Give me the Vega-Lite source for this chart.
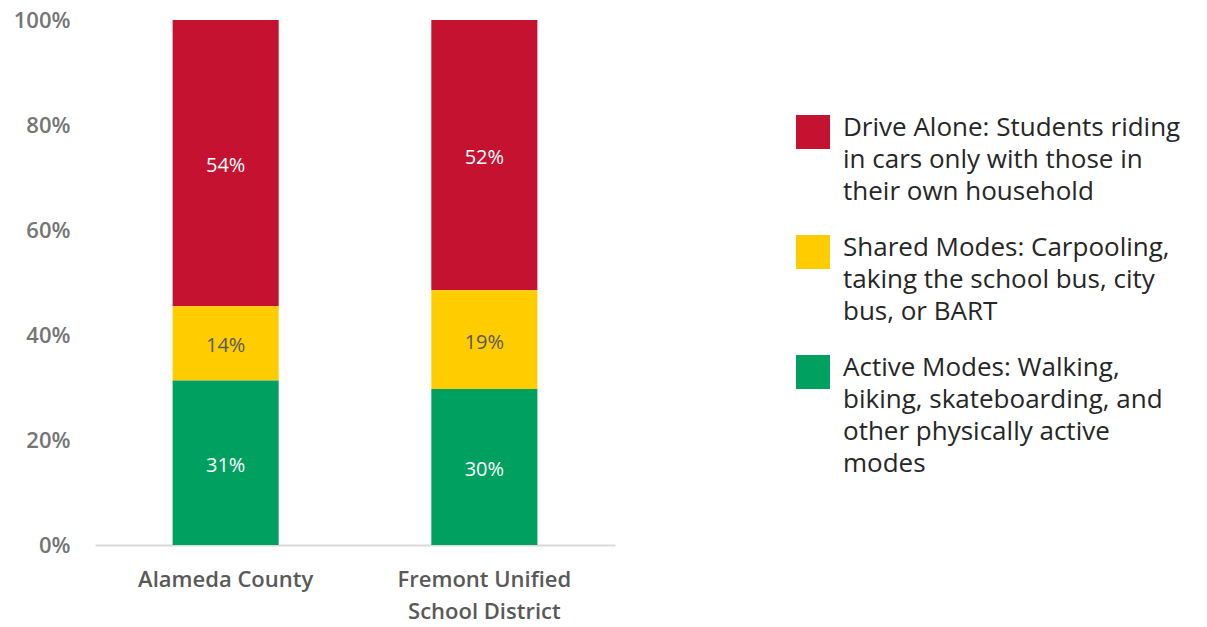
{
  "$schema": "https://vega.github.io/schema/vega-lite/v6.json",
  "autosize": {"type": "none"},
  "padding": {"left": 95, "top": 20, "right": 592, "bottom": 82},
  "width": 520,
  "height": 525,
  "background": "white",
  "config": {"view": {"stroke": null}},
  "data": {
    "values": [
      {"region": "Alameda County", "mode": "Drive Alone: Students riding in cars only with those in their own household", "value": 54},
      {"region": "Alameda County", "mode": "Shared Modes: Carpooling, taking the school bus, city bus, or BART", "value": 14},
      {"region": "Alameda County", "mode": "Active Modes: Walking, biking, skateboarding, and other physically active modes", "value": 31},
      {"region": "Fremont Unified School District", "mode": "Drive Alone: Students riding in cars only with those in their own household", "value": 52},
      {"region": "Fremont Unified School District", "mode": "Shared Modes: Carpooling, taking the school bus, city bus, or BART", "value": 19},
      {"region": "Fremont Unified School District", "mode": "Active Modes: Walking, biking, skateboarding, and other physically active modes", "value": 30}
    ]
  },
  "transform": [
    {"calculate": "indexof(['Active', 'Shared', 'Drive'], split(datum.mode, ' ')[0])", "as": "rank"},
    {"stack": "value", "groupby": ["region"], "sort": [{"field": "rank", "order": "ascending"}], "offset": "normalize", "as": ["y0", "y1"]},
    {"calculate": "(datum.y0 + datum.y1) / 2", "as": "ymid"},
    {"calculate": "datum.value + '%'", "as": "label"}
  ],
  "encoding": {
    "x": {
      "field": "region", "type": "nominal", "sort": null, "title": null,
      "scale": {"paddingInner": 0.59, "paddingOuter": 0.3},
      "axis": {
        "labelAngle": 0, "ticks": false, "domainColor": "#d9d9d9", "domainWidth": 2,
        "labelFont": "Open Sans", "labelFontSize": 22, "labelFontWeight": 600, "labelColor": "#595959",
        "labelPadding": 24, "labelLineHeight": 32,
        "labelExpr": "datum.label == 'Fremont Unified School District' ? ['Fremont Unified', 'School District'] : datum.label"
      }
    }
  },
  "layer": [
    {
      "mark": {"type": "bar"},
      "encoding": {
        "y": {
          "field": "y1", "type": "quantitative", "title": null,
          "scale": {"domain": [0, 1], "nice": false},
          "axis": {
            "values": [0, 0.2, 0.4, 0.6, 0.8, 1], "format": ".0%", "grid": false, "ticks": false, "domain": false,
            "labelFont": "Open Sans", "labelFontSize": 22, "labelFontWeight": 600, "labelColor": "#757575", "labelPadding": 25
          }
        },
        "y2": {"field": "y0"},
        "color": {
          "field": "mode", "type": "nominal", "title": null,
          "scale": {
            "domain": [
              "Drive Alone: Students riding in cars only with those in their own household",
              "Shared Modes: Carpooling, taking the school bus, city bus, or BART",
              "Active Modes: Walking, biking, skateboarding, and other physically active modes"
            ],
            "range": ["#C41230", "#FFCC00", "#00A160"]
          },
          "legend": {
            "orient": "none", "legendX": 701, "legendY": 95,
            "symbolType": "square", "symbolSize": 1156, "symbolStrokeWidth": 0, "symbolOpacity": 1,
            "labelFont": "Open Sans", "labelFontSize": 26, "labelColor": "#262626", "labelLimit": 500,
            "labelOffset": 13, "labelBaseline": "top", "rowPadding": 30,
            "labelExpr": "datum.label[0] == 'D' ? ['Drive Alone: Students riding', 'in cars only with those in', 'their own household'] : datum.label[0] == 'S' ? ['Shared Modes: Carpooling,', 'taking the school bus, city', 'bus, or BART'] : ['Active Modes: Walking,', 'biking, skateboarding, and', 'other physically active', 'modes']",
            "encode": {"labels": {"update": {"lineHeight": {"value": 32}, "dy": {"value": -17}}}}
          }
        }
      }
    },
    {
      "mark": {"type": "text", "font": "Open Sans", "fontSize": 20, "baseline": "middle", "dy": 3},
      "encoding": {
        "y": {"field": "ymid", "type": "quantitative"},
        "text": {"field": "label", "type": "nominal"},
        "color": {
          "condition": {"test": "datum.rank == 1", "value": "#595959"},
          "value": "white"
        }
      }
    }
  ]
}
